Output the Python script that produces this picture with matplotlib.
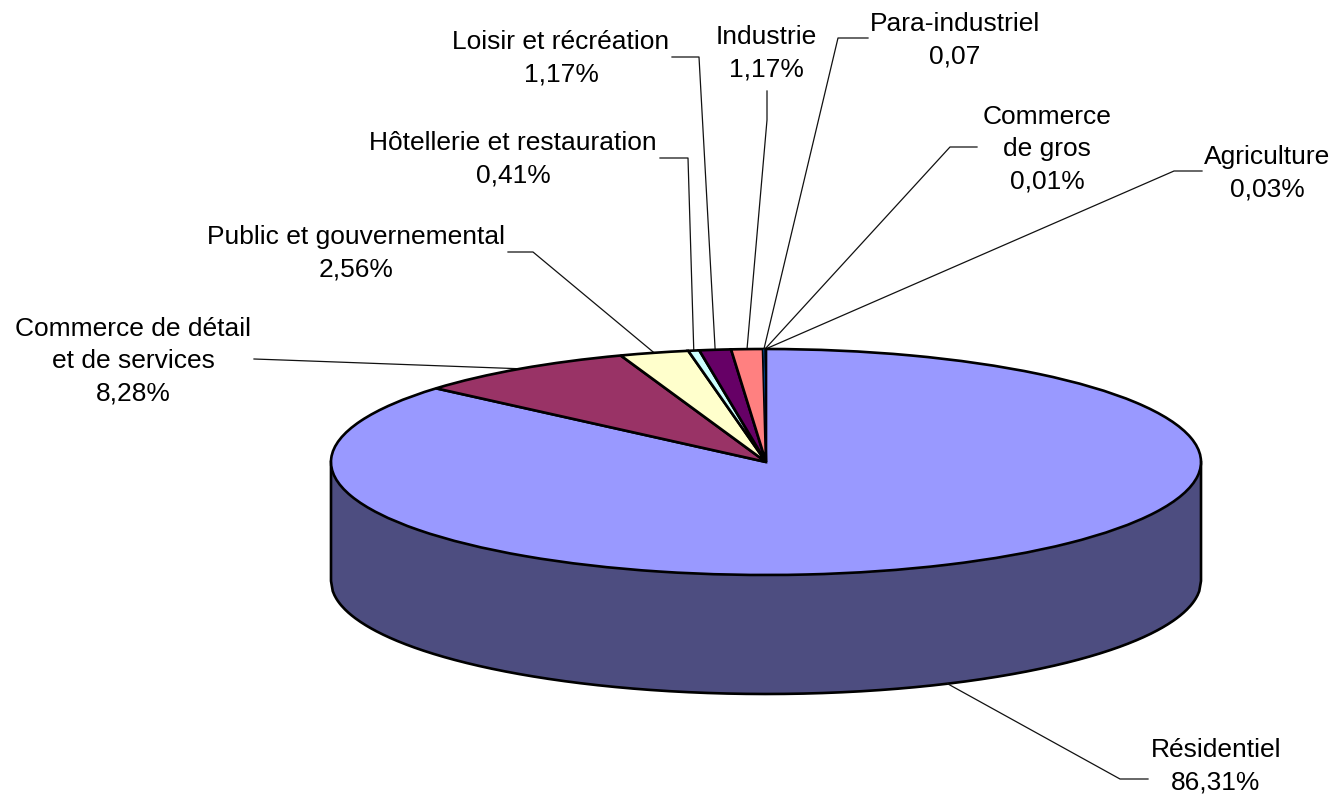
import numpy as np
import matplotlib
matplotlib.use("Agg")
import matplotlib.pyplot as plt

plt.rcParams['font.family'] = ['Liberation Sans', 'DejaVu Sans']

labels = ["Résidentiel\n86,31%", "Commerce de détail\net de services\n8,28%",
          "Public et gouvernemental\n2,56%", "Hôtellerie et restauration\n0,41%",
          "Loisir et récréation\n1,17%", "Industrie\n1,17%", "Para-industriel\n0,07",
          "Commerce\nde gros\n0,01%", "Agriculture\n0,03%"]
values = [86.31, 8.28, 2.56, 0.41, 1.17, 1.17, 0.07, 0.01, 0.03]
colors = ["#9999FF", "#993366", "#FFFFCC", "#CCFFFF", "#660066",
          "#FF8080", "#0066CC", "#CCCCFF", "#000080"]
side_color = "#4D4D80"

# layout in pixels
W, H = 1336, 797
cx, cy, rx, ry, depth = 766, 462, 435, 113, 119
label_pos = [(1216, 766), (133, 361), (356, 253), (513, 159), (561, 58),
             (766, 53), (955, 40), (1047, 149), (1267, 173)]
# label end of the leader, then its elbow
leader_pts = [((1148, 779), (1120, 779)), ((254, 359), (282, 360)),
              ((508, 252), (533, 252)), ((660, 158), (688, 158)),
              ((672, 57), (699, 57)), ((767, 91), (767, 120)),
              ((868, 38), (838, 38)), ((977, 147), (950, 147)),
              ((1202, 171), (1174, 171))]

fig = plt.figure(figsize=(W / 100, H / 100), dpi=100)
ax = fig.add_axes([0, 0, 1, 1])
ax.set_xlim(0, W)
ax.set_ylim(H, 0)
ax.axis('off')

# side wall of the cylinder, outline as one path so the corners join up
x = np.linspace(cx - rx, cx + rx, 500)
arc = ry * np.sqrt(np.clip(1 - ((x - cx) / rx) ** 2, 0, 1))
ax.fill_between(x, cy + arc, cy + arc + depth, color=side_color, lw=0)
ax.plot(np.r_[cx - rx, x, cx + rx], np.r_[cy, cy + arc + depth, cy],
        color='black', lw=1.9, solid_joinstyle='round')

# leaders go to the middle of each slice
mids = (np.cumsum(values) - np.array(values) / 2) / sum(values) * 2 * np.pi
for i, (txt, pos) in enumerate(zip(labels, label_pos)):
    end = (cx + rx * np.sin(mids[i]), cy - ry * np.cos(mids[i]))
    if i == 0:
        end = (end[0], end[1] + depth)
    p0, p1 = leader_pts[i]
    ax.plot([p0[0], p1[0], end[0]], [p0[1], p1[1], end[1]], color='#111111', lw=0.9)
    ax.text(pos[0], pos[1], txt, ha='center', va='center', fontsize=19,
            color='black', linespacing=1.43)

# top face, a pie squeezed into an ellipse by its axes
pie_ax = fig.add_axes([(cx - rx) / W, 1 - (cy + ry) / H, 2 * rx / W, 2 * ry / H])
wedges, _ = pie_ax.pie(values, colors=colors, startangle=90, counterclock=False, radius=1,
                       wedgeprops={'edgecolor': 'black', 'linewidth': 1.9})
# the three tiniest slices would turn solid black with a full outline
for w in wedges[6:]:
    w.set_linewidth(0.5)
pie_ax.set_aspect('auto')
pie_ax.set_xlim(-1, 1)
pie_ax.set_ylim(-1, 1)

fig.savefig("out.png", dpi=100)
